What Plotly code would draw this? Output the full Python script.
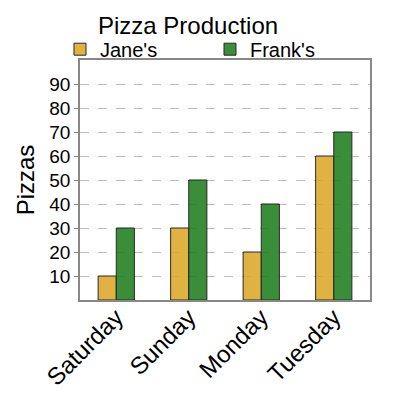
import plotly.graph_objects as go

days = ["Saturday", "Sunday", "Monday", "Tuesday"]
janes = [10, 30, 20, 60]
franks = [30, 50, 40, 70]
tick_vals = [10, 20, 30, 40, 50, 60, 70, 80, 90]

FONT = "Liberation Sans, Arial, sans-serif"
W = H = 392  # page body adds an 8px margin

fig = go.Figure()
fig.add_trace(go.Bar(
    x=days, y=janes, name="Jane's",
    marker=dict(color="rgba(218,165,32,0.85)", line=dict(color="rgb(40,40,40)", width=1)),
))
fig.add_trace(go.Bar(
    x=days, y=franks, name="Frank's",
    marker=dict(color="rgba(24,122,24,0.85)", line=dict(color="rgb(40,40,40)", width=1)),
))

fig.update_layout(
    width=W, height=H,
    margin=dict(l=72, r=30, t=52, b=100, autoexpand=False),
    paper_bgcolor="white", plot_bgcolor="white",
    font=dict(family=FONT, color="black"),
    barmode="group", bargap=0.5, bargroupgap=0,
    title=dict(text="Pizza Production", x=90/W, xanchor="left", xref="container",
               y=1-18/H, yanchor="middle", yref="container",
               font=dict(size=24, family=FONT, color="black")),
    showlegend=True,
    legend=dict(orientation="h", x=-0.069, xanchor="left", y=1.045, yanchor="middle",
                font=dict(size=20, family=FONT), entrywidth=105, entrywidthmode="pixels",
                itemwidth=30, bgcolor="rgba(0,0,0,0)", tracegroupgap=0),
    xaxis=dict(tickangle=-45, tickfont=dict(size=24, family=FONT), showline=True,
               linecolor="#888", linewidth=1.5, mirror=True, ticks="", showgrid=False,
               ticklabelstandoff=-8),
    yaxis=dict(range=[0, 100], tickvals=tick_vals, tickfont=dict(size=19, family=FONT),
               showline=True, linecolor="#888", linewidth=1.5, mirror=True,
               ticks="outside", ticklen=4, tickcolor="#888",
               showgrid=True, gridcolor="#bbb", griddash="dash", gridwidth=1.2,
               zeroline=False,
               title=dict(text="Pizzas", font=dict(size=24, family=FONT), standoff=8)),
)

fig.write_html("out.html")
